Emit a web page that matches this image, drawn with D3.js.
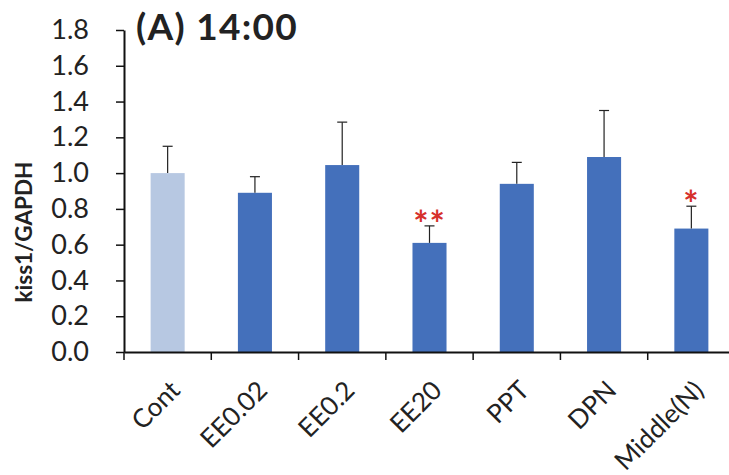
<!DOCTYPE html>
<html>
<head>
<meta charset="utf-8">
<script src="https://cdn.jsdelivr.net/npm/d3@7"></script>
<style>
  body { margin: 0; background: #fff; }
  svg { display: block; font-family: Lato, "Open Sans", sans-serif; }
</style>
</head>
<body>
<div id="chart"></div>
<script>
const groups = ["Cont", "EE0.02", "EE0.2", "EE20", "PPT", "DPN", "Middle(N)"];
const means = [1.00, 0.89, 1.045, 0.61, 0.94, 1.09, 0.69];
const errors = [0.15, 0.09, 0.24, 0.095, 0.12, 0.26, 0.125];
const stars = ["", "", "", "**", "", "", "*"];
const yTicks = [0, 0.2, 0.4, 0.6, 0.8, 1.0, 1.2, 1.4, 1.6, 1.8];

const width = 729, height = 475;

const svg = d3.select("#chart")
    .append("svg")
    .attr("width", width)
    .attr("height", height);

// y axis scale, Excel style 0..1.8
const y = d3.scaleLinear()
    .domain([0, 1.8])
    .range([352, 30]);

const x = d3.scaleBand()
    .domain(groups)
    .range([124, 735])
    .paddingInner(0.61)
    .paddingOuter(0.305);

// bars
svg.selectAll(".bar")
    .data(groups)
    .enter()
    .append("rect")
    .attr("class", "bar")
    .attr("x", d => x(d))
    .attr("y", (d, i) => y(means[i]))
    .attr("width", x.bandwidth())
    .attr("height", (d, i) => y(0) - y(means[i]))
    .attr("fill", (d, i) => i === 0 ? "#b7c8e2" : "#4470bb");

// error bars (upper only)
const eb = svg.selectAll(".err")
    .data(groups)
    .enter()
    .append("g")
    .attr("class", "err")
    .attr("stroke", "#222")
    .attr("stroke-width", 1.2);

eb.append("line")
    .attr("x1", d => x(d) + x.bandwidth() / 2)
    .attr("x2", d => x(d) + x.bandwidth() / 2)
    .attr("y1", (d, i) => y(means[i]))
    .attr("y2", (d, i) => y(means[i] + errors[i]));

eb.append("line")
    .attr("x1", d => x(d) + x.bandwidth() / 2 - 5)
    .attr("x2", d => x(d) + x.bandwidth() / 2 + 5)
    .attr("y1", (d, i) => y(means[i] + errors[i]))
    .attr("y2", (d, i) => y(means[i] + errors[i]));

// significance stars
svg.selectAll(".star")
    .data(groups)
    .enter()
    .append("text")
    .attr("class", "star")
    .attr("x", d => x(d) + x.bandwidth() / 2)
    .attr("y", (d, i) => y(means[i] + errors[i]) + 11)
    .attr("text-anchor", "middle")
    .attr("fill", "#d6302b")
    .attr("font-size", 36)
    .attr("font-weight", "bold")
    .attr("letter-spacing", 1)
    .text((d, i) => stars[i]);

// Y axis
const yAxis = svg.append("g")
    .attr("transform", "translate(124,0)")
    .call(d3.axisLeft(y).tickValues(yTicks).tickFormat(d3.format(".1f")).tickSize(8).tickSizeOuter(0));
yAxis.select(".domain").attr("stroke", "#111").attr("stroke-width", 2);
yAxis.selectAll(".tick line").attr("stroke", "#111").attr("stroke-width", 1.5);
yAxis.selectAll(".tick text")
    .attr("x", -35)
    .attr("font-size", 27)
    .attr("font-family", "Lato, sans-serif")
    .attr("fill", "#222");

// X axis with ticks at band boundaries
const xAxis = svg.append("g")
    .attr("transform", `translate(0,${y(0)})`)
    .call(d3.axisBottom(x).tickSize(0).tickPadding(8));
xAxis.select(".domain").attr("stroke", "#111").attr("stroke-width", 2);
xAxis.selectAll(".tick text")
    .attr("font-size", 26)
    .attr("font-family", "Lato, sans-serif")
    .attr("fill", "#222")
    .attr("text-anchor", "end")
    .attr("dy", 0)
    .attr("transform", "translate(14,40) rotate(-45)")
    .attr("y", 0)
    .attr("x", 0);

xAxis.selectAll(".bound")
    .data(d3.range(groups.length + 1))
    .enter()
    .append("line")
    .attr("class", "bound")
    .attr("x1", i => x.range()[0] + i * x.step())
    .attr("x2", i => x.range()[0] + i * x.step())
    .attr("y1", 0)
    .attr("y2", 8)
    .attr("stroke", "#111")
    .attr("stroke-width", 1.5);

// y axis title
svg.append("text")
    .attr("transform", "translate(32,232) rotate(-90)")
    .attr("text-anchor", "middle")
    .attr("font-size", 22.5)
    .attr("font-weight", "bold")
    .attr("fill", "#222")
    .text("kiss1/GAPDH");

// panel title
svg.append("text")
    .attr("x", 136)
    .attr("y", 40)
    .attr("font-size", 37)
    .attr("font-weight", "bold")
    .attr("letter-spacing", 1.3)
    .attr("fill", "#222")
    .text("(A) 14:00");
</script>
</body>
</html>
